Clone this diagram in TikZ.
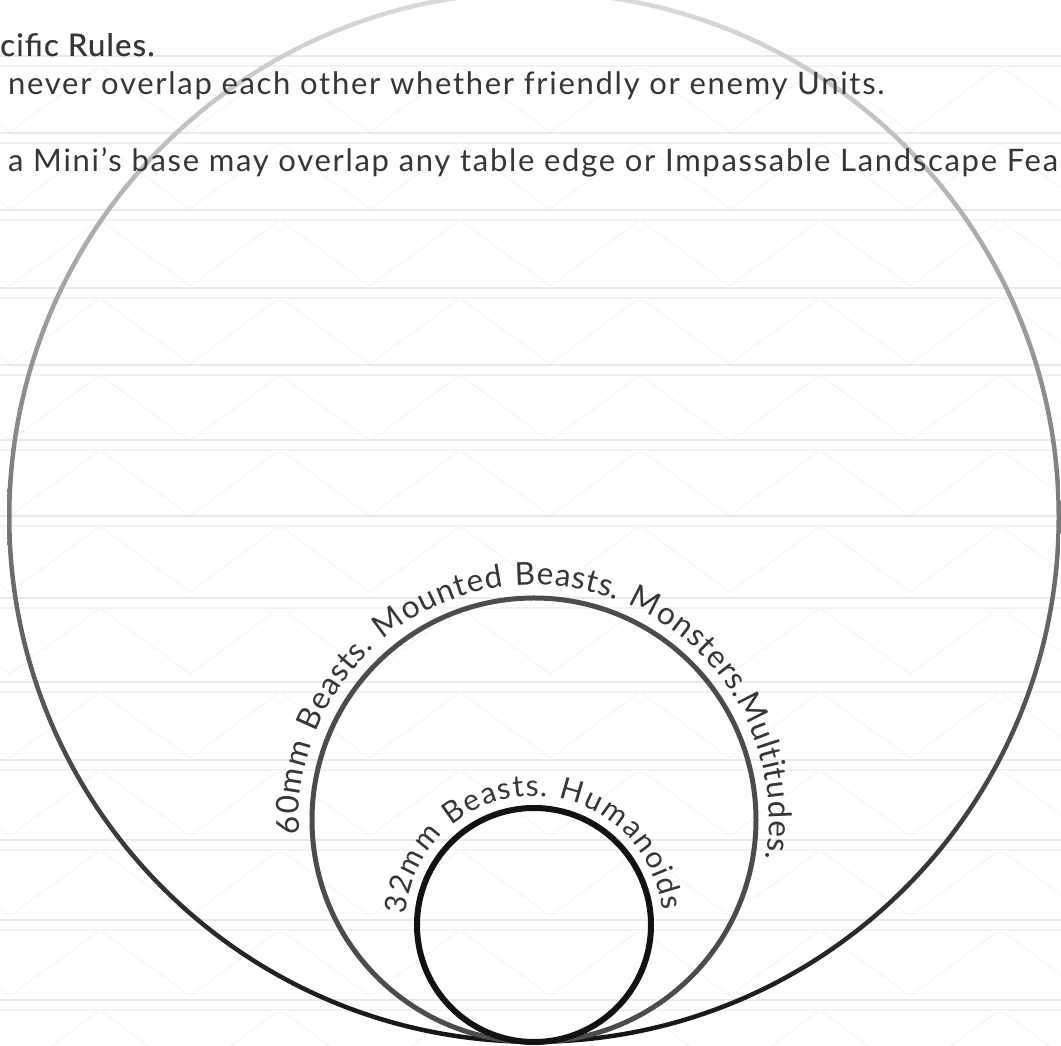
\documentclass[tikz,border=0pt]{standalone}
\usepackage{fontspec}
\setmainfont{Lato}[LetterSpace=5.5]
\newfontfamily\medfont{Lato}[LetterSpace=4,FakeBold=0.6]
\usepackage{tikz}
\usetikzlibrary{decorations.text}
\definecolor{inkgrey}{HTML}{363636}
\definecolor{brickline}{HTML}{E9E9E9}
\definecolor{brickfaint}{HTML}{F2F2F2}
\definecolor{brickdiag}{HTML}{F5F5F5}
\tikzset{
  rulestext/.style={anchor=base west,inner sep=0pt,text=inkgrey,font=\fontsize{31}{34}\selectfont},
  basering/.style={line width=#1},
}
\newcommand{\arcfont}{\fontsize{30}{32}\selectfont\color{inkgrey}}
\newcommand{\bigarcfont}{\fontsize{31.5}{33}\selectfont\color{inkgrey}}

\begin{document}
\begin{tikzpicture}[x=1pt,y=1pt]
  \useasboundingbox (0,0) rectangle (1061,1046);
  \clip (0,0) rectangle (1061,1046);
  \fill[white] (0,0) rectangle (1061,1046);
  % brick courses of the background
  \foreach \yb in {990,913,836,758,681,606,530,448,364,286,206,126,46} {
    \draw[brickline,line width=2.5pt] (0,\yb) -- (1061,\yb);
    \draw[brickfaint,line width=2pt] (0,\yb-10) -- (1061,\yb-10);
    \foreach \xb in {-80,100,...,1100}
      \draw[brickdiag,line width=1pt] (\xb,\yb-10) -- ++(90,-66) -- ++(90,66);
  }
  % base centres, all touching at one point
  \coordinate (touch) at (534,4);
  \coordinate (big) at (534,529);
  \coordinate (mid) at (534,226);
  \coordinate (small) at (534,121);
  % outer circle, light at the top and dark at the bottom
  \path[even odd rule,top color=black!14,bottom color=black!92]
    (big) circle (527) (big) circle (522.5);
  \draw[basering=5pt,black!70] (mid) circle (222);
  \draw[basering=6pt,black!93] (small) circle (117);
  % labels round the bases
  \path[decorate,decoration={text along path,text align=center,raise=13pt,
      text={|\bigarcfont|60mm Beasts. Mounted Beasts. Monsters.Multitudes.}}]
    (mid) ++(207:222) arc[start angle=207,end angle=-33,radius=222];
  \path[decorate,decoration={text along path,text align=center,raise=12pt,
      text={|\arcfont|32mm Beasts. Humanoids}}]
    (small) ++(211:117) arc[start angle=211,end angle=-29,radius=117];
  % rules text at the top
  \node[rulestext,font=\fontsize{31}{34}\medfont] (head) at (0,990) {cific Rules.};
  \node[rulestext] (ruleone) at (8,951) {never overlap each other whether friendly or enemy Units.};
  \node[rulestext] (ruletwo) at (8,874) {a Mini’s base may overlap any table edge or Impassable Landscape Fea};
\end{tikzpicture}
\end{document}
